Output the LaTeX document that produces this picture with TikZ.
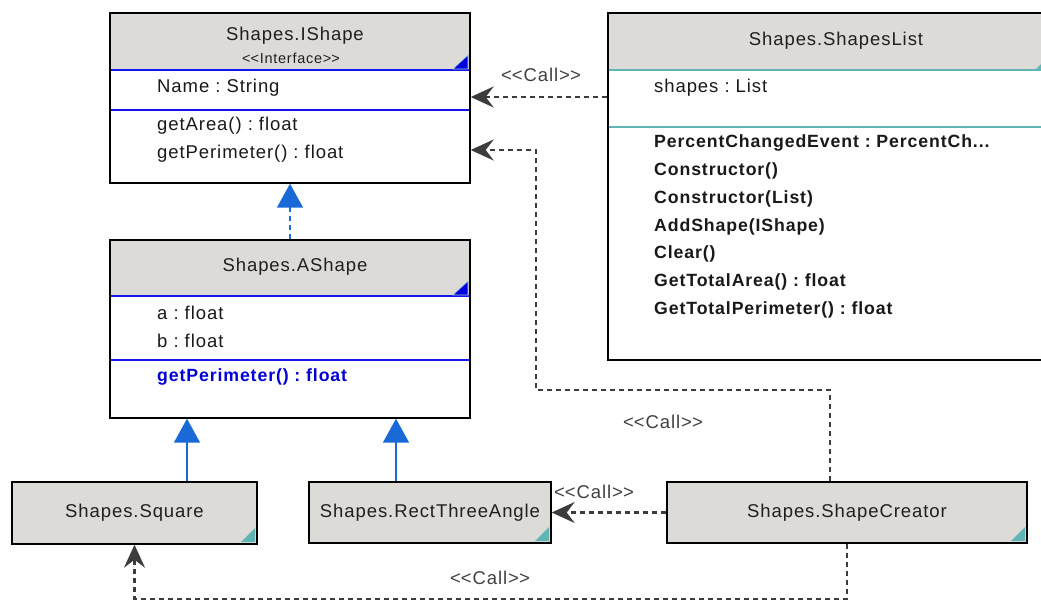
\documentclass[tikz,border=0pt]{standalone}
\usepackage{fontspec}
\setmainfont{Liberation Sans}[LetterSpace=5]
\usetikzlibrary{arrows.meta, positioning, calc}

\definecolor{headgray}{RGB}{221,219,215}
\definecolor{sepblue}{RGB}{20,20,235}
\definecolor{cornerblue}{RGB}{0,0,225}
\definecolor{tealc}{RGB}{95,180,180}
\definecolor{arrowblue}{RGB}{25,105,215}
\definecolor{callgray}{RGB}{60,60,60}
\definecolor{opblue}{RGB}{0,0,215}

\newcommand{\stereo}[1]{<\kern0pt<#1>\kern0pt>}
\frenchspacing

\begin{document}
\begin{tikzpicture}[x=1pt, y=-1pt,
  clsbox/.style={draw=black, line width=1.4pt, inner sep=0pt},
  single/.style={clsbox, fill=headgray, font=\fontsize{18.5}{22}\selectfont, text=black!88},
  title/.style={inner sep=0pt, font=\fontsize{18.5}{22}\selectfont, text=black!88},
  member/.style={anchor=west, inner sep=0pt, font=\fontsize{18.5}{22}\selectfont, text=black!90},
  op/.style={member, font=\fontsize{17.7}{21}\selectfont\bfseries},
  lbl/.style={inner sep=0pt, font=\fontsize{18.5}{22}\selectfont, text=black!75},
  sepb/.style={draw=sepblue, line width=1.2pt},
  sept/.style={draw=tealc, line width=1.2pt},
  callarr/.style={-{Stealth[length=23pt, width=21pt, inset=8pt]}, line width=2.2pt,
                  dash pattern=on 5pt off 4pt, color=callgray},
  genarr/.style={-{Triangle[length=24pt, width=26pt]}, line width=1.6pt, color=arrowblue},
  realarr/.style={genarr, dash pattern=on 5pt off 4pt},
]
  \useasboundingbox (0,0) rectangle (1041,600);
  \clip (0,0) rectangle (1041,600);

  % ── Shapes.IShape ──
  \fill[headgray] (110,13) rectangle (470,70);
  \node[title] (ishtitle) at (295,36) {Shapes.IShape};
  \node[title, font=\fontsize{14.5}{17}\selectfont] (ishstereo) at (291,58) {\stereo{Interface}};
  \draw[sepb] (110,70) -- (470,70);
  \draw[sepb] (110,110) -- (470,110);
  \node[member] (ishname)    at (157,88)  {Name : String};
  \node[member] (ishgetarea) at (157,126) {getArea() : float};
  \node[member] (ishgetper)  at (157,154) {getPerimeter() : float};
  \fill[cornerblue, draw=tealc!60, line width=0.6pt] (468,69) -- (468,55) -- (453,69) -- cycle;
  \node[clsbox, minimum width=360pt, minimum height=170pt] (ishape) at (290,98) {};

  % ── Shapes.AShape ──
  \fill[headgray] (110,240) rectangle (470,296);
  \node[title] (ashtitle) at (295,267) {Shapes.AShape};
  \draw[sepb] (110,296) -- (470,296);
  \draw[sepb] (110,360) -- (470,360);
  \node[member] (asha) at (157,313) {a : float};
  \node[member] (ashb) at (157,341) {b : float};
  \node[op, text=opblue] (ashgetper) at (157,377) {getPerimeter() : float};
  \fill[cornerblue, draw=tealc!60, line width=0.6pt] (468,295) -- (468,281) -- (453,295) -- cycle;
  \node[clsbox, minimum width=360pt, minimum height=178pt] (ashape) at (290,329) {};

  % ── Shapes.ShapesList (runs past the right edge) ──
  \fill[headgray] (608,13) rectangle (1052,70);
  \node[title] (sltitle) at (836,41) {Shapes.ShapesList};
  \draw[sept] (608,70) -- (1052,70);
  \draw[sept] (608,127) -- (1052,127);
  \node[member] (slshapes) at (654,88) {shapes : List};
  \node[op] (slevent)  at (654,143) {PercentChangedEvent : PercentCh...};
  \node[op] (slctor)   at (654,171) {Constructor()};
  \node[op] (slctorl)  at (654,199) {Constructor(List)};
  \node[op] (sladd)    at (654,227) {AddShape(IShape)};
  \node[op] (slclear)  at (654,254) {Clear()};
  \node[op] (slarea)   at (654,282) {GetTotalArea() : float};
  \node[op] (slper)    at (654,310) {GetTotalPerimeter() : float};
  \fill[tealc] (1050,69) -- (1050,55) -- (1036,69) -- cycle;
  \node[clsbox, minimum width=444pt, minimum height=347pt] (shapeslist) at (830,186.5) {};

  % ── Bottom row ──
  \node[single, minimum width=245pt, minimum height=62pt] (square) at (134.5,513) {Shapes.Square};
  \node[single, minimum width=242pt, minimum height=61pt] (rect) at (430,512.5) {Shapes.RectThreeAngle};
  \node[single, minimum width=360pt, minimum height=61pt] (creator) at (847,512.5) {Shapes.ShapeCreator};
  \fill[tealc] (255,542) -- (255,528) -- (241,542) -- cycle;
  \fill[tealc] (549,541) -- (549,527) -- (535,541) -- cycle;
  \fill[tealc] (1025,541) -- (1025,527) -- (1011,541) -- cycle;

  % ══ Arrows ══
  \draw[realarr] (ashape.north) -- (ishape.south);
  \draw[genarr] (square.north -| 187,0) -- (ashape.south -| 187,0);
  \draw[genarr] (rect.north -| 396,0) -- (ashape.south -| 396,0);

  % <<Call>> dependencies
  \draw[callarr] (shapeslist.west |- 0,97) -- (ishape.east |- 0,97);
  \draw[callarr] ([xshift=-17pt]creator.north) |- (536,390) -- (536,150) -- (ishape.east |- 0,150);
  \draw[callarr] (creator.west) -- (rect.east);
  \draw[callarr] (creator.south) -- ++(0,55) -| (square.south);

  % ── Labels ──
  \node[lbl] (lblshapes) at (541,75)  {\stereo{Call}};
  \node[lbl] (lblupper)  at (663,422) {\stereo{Call}};
  \node[lbl] (lblrect)   at (594,492) {\stereo{Call}};
  \node[lbl] (lblsquare) at (490,578) {\stereo{Call}};

\end{tikzpicture}
\end{document}
